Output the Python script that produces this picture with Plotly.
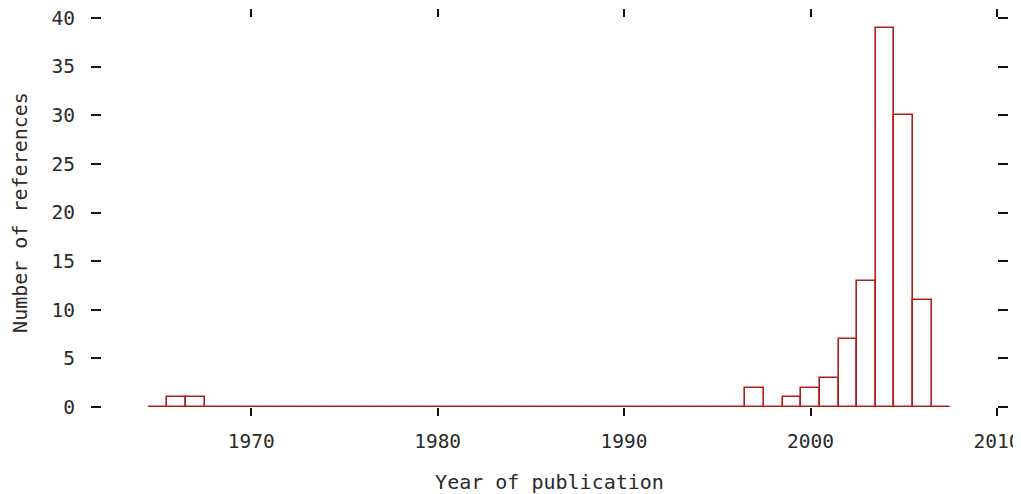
import plotly.graph_objects as go

years = list(range(1965, 2008))
count_map = {1966: 1, 1967: 1, 1997: 2, 1999: 1, 2000: 2, 2001: 3, 2002: 7,
             2003: 13, 2004: 39, 2005: 30, 2006: 11}
counts = [count_map.get(y, 0) for y in years]
x_ticks = [1970, 1980, 1990, 2000, 2010]
y_ticks = [0, 5, 10, 15, 20, 25, 30, 35, 40]

RED = "#b01e1e"
FONT = "DejaVu Sans Mono"

fig = go.Figure()
fig.add_trace(go.Bar(
    x=years, y=counts, width=1,
    marker=dict(color="rgba(255,255,255,0)", line=dict(color=RED, width=1.6)),
    showlegend=False, hoverinfo="x+y",
))
fig.add_trace(go.Scatter(
    x=[min(years) - 0.5, max(years) + 0.5], y=[0, 0], mode="lines",
    line=dict(color=RED, width=1.6), showlegend=False, hoverinfo="skip",
))

fig.update_layout(
    width=1013, height=486,
    margin=dict(l=94, r=24, t=10, b=87),
    paper_bgcolor="white", plot_bgcolor="white",
    font=dict(family=FONT, size=19.5, color="#2a2a2a"),
    bargap=0,
)
fig.update_xaxes(
    range=[1962, 2010], tickvals=x_ticks, ticktext=[str(v) for v in x_ticks],
    ticks="outside", ticklen=8, tickwidth=1.5, tickcolor="#111",
    mirror="ticks", showline=False, showgrid=False, zeroline=False,
    ticklabelstandoff=9, ticklabeloverflow="allow",
    title=dict(text="Year of publication", font=dict(family=FONT, size=20), standoff=22),
    automargin=False,
)
fig.update_yaxes(
    range=[0, 40], tickvals=y_ticks, ticktext=[str(v) for v in y_ticks],
    ticks="outside", ticklen=10, tickwidth=1.5, tickcolor="#111",
    mirror="ticks", showline=False, showgrid=False, zeroline=False,
    ticklabelstandoff=12, ticklabeloverflow="allow",
    title=dict(text="Number of references", font=dict(family=FONT, size=20), standoff=22),
    automargin=False,
)

fig.write_html("out.html")
